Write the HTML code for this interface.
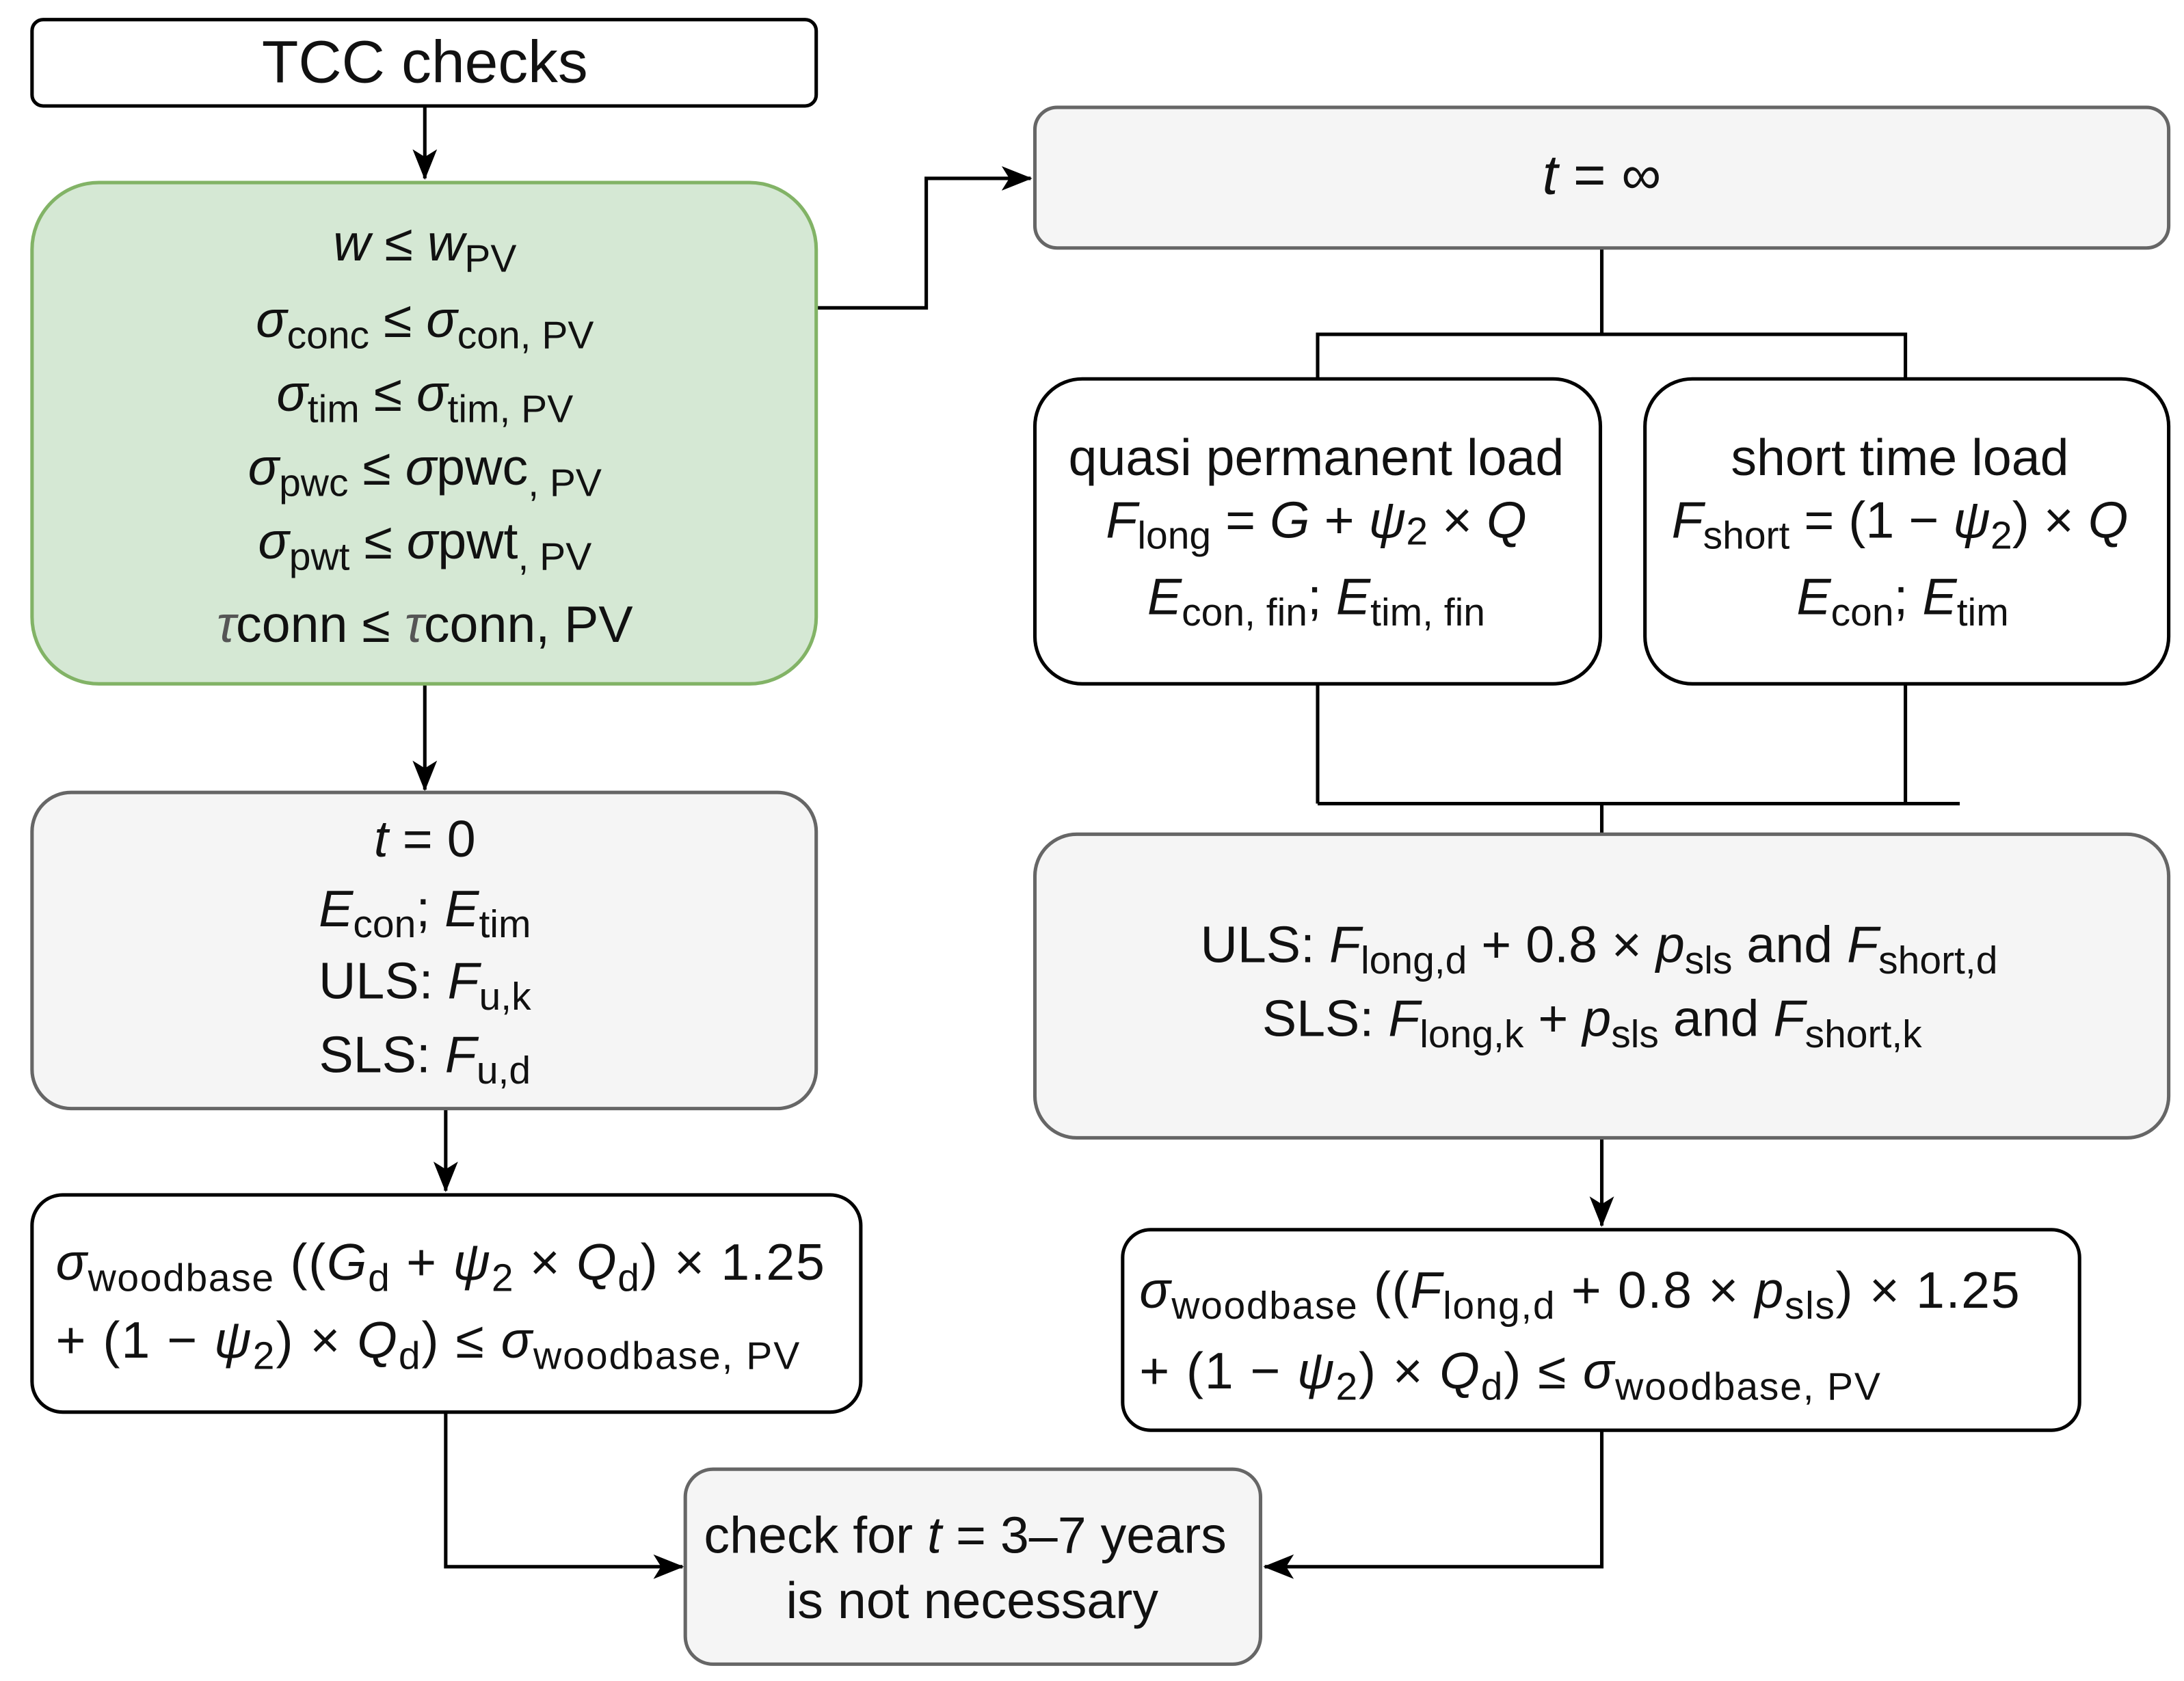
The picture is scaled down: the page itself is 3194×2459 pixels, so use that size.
<!DOCTYPE html>
<html><head><meta charset="utf-8"><style>
html,body{margin:0;padding:0;background:#fff;}
svg{display:block;}
text{font-family:"Liberation Sans",sans-serif;font-size:37px;fill:#111;}
.i{font-style:italic;}
.s{font-size:28px;}
</style></head><body>
<svg width="3194" height="2459" viewBox="0 0 1568 1207" xmlns="http://www.w3.org/2000/svg">
<defs>
<marker id="b" viewBox="0 0 20 20" markerWidth="22" markerHeight="22" refX="19" refY="10" orient="auto" markerUnits="userSpaceOnUse"><path d="M0,2 L20,10 L0,18 L5,10 Z" fill="#000"/></marker></defs>
<g fill="none" stroke="#000" stroke-width="2.5">
<path d="M305,76 V128" marker-end="url(#b)"/>
<path d="M305,491 V567" marker-end="url(#b)"/>
<path d="M320,796 V855" marker-end="url(#b)"/>
<path d="M320,1014 V1125 H490" marker-end="url(#b)"/>
<path d="M586,221 H665 V128 H740" marker-end="url(#b)"/>
<path d="M1150,178 V240 M946,272 V240 H1368 V272"/>
<path d="M946,491 V577 M1368,491 V577 M946,577 H1407 M1150,577 V599"/>
<path d="M1150,817 V880" marker-end="url(#b)"/>
<path d="M1150,1027 V1125 H908" marker-end="url(#b)"/>
</g>
<rect x="23" y="14" width="563" height="62" rx="8" fill="#fff" stroke="#000" stroke-width="2.5"/>
<rect x="23" y="131" width="563" height="360" rx="48" fill="#d5e8d4" stroke="#82b366" stroke-width="2.5"/>
<rect x="23" y="569" width="563" height="227" rx="28" fill="#f5f5f5" stroke="#666" stroke-width="2.5"/>
<rect x="23" y="858" width="595" height="156" rx="22" fill="#fff" stroke="#000" stroke-width="2.5"/>
<rect x="492" y="1055" width="413" height="140" rx="20" fill="#f5f5f5" stroke="#666" stroke-width="2.5"/>
<rect x="743" y="77" width="814" height="101" rx="16" fill="#f5f5f5" stroke="#666" stroke-width="2.5"/>
<rect x="743" y="272" width="406" height="219" rx="34" fill="#fff" stroke="#000" stroke-width="2.5"/>
<rect x="1181" y="272" width="376" height="219" rx="34" fill="#fff" stroke="#000" stroke-width="2.5"/>
<rect x="743" y="599" width="814" height="218" rx="30" fill="#f5f5f5" stroke="#666" stroke-width="2.5"/>
<rect x="806" y="883" width="687" height="144" rx="20" fill="#fff" stroke="#000" stroke-width="2.5"/>

<text x="305" y="59" text-anchor="middle" style="font-size:43px">TCC checks</text>

<g text-anchor="middle">
<text x="305" y="187"><tspan class="i">w</tspan> ≤ <tspan class="i">w</tspan><tspan class="s" dy="8">PV</tspan></text>
<text x="305" y="242"><tspan class="i">σ</tspan><tspan class="s" dy="8">conc</tspan><tspan dy="-8"> ≤ </tspan><tspan class="i">σ</tspan><tspan class="s" dy="8">con, PV</tspan></text>
<text x="305" y="295"><tspan class="i">σ</tspan><tspan class="s" dy="8">tim</tspan><tspan dy="-8"> ≤ </tspan><tspan class="i">σ</tspan><tspan class="s" dy="8">tim, PV</tspan></text>
<text x="305" y="348"><tspan class="i">σ</tspan><tspan class="s" dy="8">pwc</tspan><tspan dy="-8"> ≤ </tspan><tspan class="i">σ</tspan>pwc<tspan class="s" dy="8">, PV</tspan></text>
<text x="305" y="401"><tspan class="i">σ</tspan><tspan class="s" dy="8">pwt</tspan><tspan dy="-8"> ≤ </tspan><tspan class="i">σ</tspan>pwt<tspan class="s" dy="8">, PV</tspan></text>
<text x="305" y="461"><tspan class="i" fill="#555">τ</tspan>conn ≤ <tspan class="i" fill="#555">τ</tspan>conn, PV</text>

<text x="305" y="615" fill="#444"><tspan class="i">t</tspan> = 0</text>
<text x="305" y="665"><tspan class="i">E</tspan><tspan class="s" dy="8">con</tspan><tspan dy="-8">; </tspan><tspan class="i">E</tspan><tspan class="s" dy="8">tim</tspan></text>
<text x="305" y="717">ULS: <tspan class="i">F</tspan><tspan class="s" dy="8">u,k</tspan></text>
<text x="305" y="770">SLS: <tspan class="i">F</tspan><tspan class="s" dy="8">u,d</tspan></text>

<text x="693" y="1115"><tspan>check for </tspan><tspan class="i">t</tspan> = 3–7 years</text>
<text x="698" y="1162">is not necessary</text>

<text x="1150" y="139" fill="#444" style="font-size:40px"><tspan class="i">t</tspan> = ∞</text>

<text x="945" y="341">quasi permanent load</text>
<text x="945" y="386"><tspan class="i">F</tspan><tspan class="s" dy="8">long</tspan><tspan dy="-8"> = </tspan><tspan class="i">G</tspan> + <tspan class="i">ψ</tspan><tspan class="s" dy="5">2</tspan><tspan dy="-5"> × </tspan><tspan class="i">Q</tspan></text>
<text x="945" y="441"><tspan class="i">E</tspan><tspan class="s" dy="8">con, fin</tspan><tspan dy="-8">; </tspan><tspan class="i">E</tspan><tspan class="s" dy="8">tim, fin</tspan></text>

<text x="1364" y="341">short time load</text>
<text x="1364" y="386"><tspan class="i">F</tspan><tspan class="s" dy="8">short</tspan><tspan dy="-8"> = (1 − </tspan><tspan class="i">ψ</tspan><tspan class="s" dy="8">2</tspan><tspan dy="-8">) × </tspan><tspan class="i">Q</tspan></text>
<text x="1366" y="441"><tspan class="i">E</tspan><tspan class="s" dy="8">con</tspan><tspan dy="-8">; </tspan><tspan class="i">E</tspan><tspan class="s" dy="8">tim</tspan></text>

<text x="1148" y="691">ULS: <tspan class="i">F</tspan><tspan class="s" dy="8">long,d</tspan><tspan dy="-8"> + 0.8 × </tspan><tspan class="i">p</tspan><tspan class="s" dy="8">sls</tspan><tspan dy="-8">  and </tspan><tspan class="i">F</tspan><tspan class="s" dy="8">short,d</tspan></text>
<text x="1143" y="744">SLS: <tspan class="i">F</tspan><tspan class="s" dy="8">long,k</tspan><tspan dy="-8"> + </tspan><tspan class="i">p</tspan><tspan class="s" dy="8">sls</tspan><tspan dy="-8">  and </tspan><tspan class="i">F</tspan><tspan class="s" dy="8">short,k</tspan></text>
</g>

<text x="40" y="919" textLength="552"><tspan class="i">σ</tspan><tspan class="s" dy="8">woodbase</tspan><tspan dy="-8"> ((</tspan><tspan class="i">G</tspan><tspan class="s" dy="8">d</tspan><tspan dy="-8"> + </tspan><tspan class="i">ψ</tspan><tspan class="s" dy="8">2</tspan><tspan dy="-8"> × </tspan><tspan class="i">Q</tspan><tspan class="s" dy="8">d</tspan><tspan dy="-8">) × 1.25</tspan></text>
<text x="40" y="975" textLength="534"><tspan>+ (1 − </tspan><tspan class="i">ψ</tspan><tspan class="s" dy="8">2</tspan><tspan dy="-8">) × </tspan><tspan class="i">Q</tspan><tspan class="s" dy="8">d</tspan><tspan dy="-8">) ≤ </tspan><tspan class="i">σ</tspan><tspan class="s" dy="8">woodbase, PV</tspan></text>

<text x="818" y="939" textLength="632"><tspan class="i">σ</tspan><tspan class="s" dy="8">woodbase</tspan><tspan dy="-8"> ((</tspan><tspan class="i">F</tspan><tspan class="s" dy="8">long,d</tspan><tspan dy="-8"> + 0.8 × </tspan><tspan class="i">p</tspan><tspan class="s" dy="8">sls</tspan><tspan dy="-8">) × 1.25</tspan></text>
<text x="818" y="997" textLength="532"><tspan>+ (1 − </tspan><tspan class="i">ψ</tspan><tspan class="s" dy="8">2</tspan><tspan dy="-8">) × </tspan><tspan class="i">Q</tspan><tspan class="s" dy="8">d</tspan><tspan dy="-8">) ≤ </tspan><tspan class="i">σ</tspan><tspan class="s" dy="8">woodbase, PV</tspan></text>
</svg>
</body></html>
